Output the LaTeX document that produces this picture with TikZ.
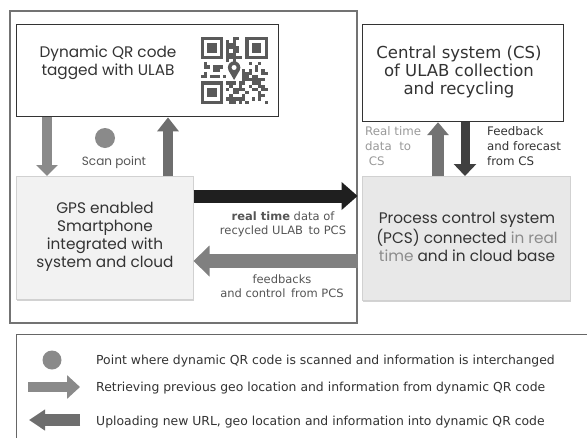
\documentclass[tikz,border=0pt]{standalone}
\usepackage{fontspec}
\setmainfont{DejaVu Sans}
\newfontfamily\geo{Poppins}
\usetikzlibrary{arrows.meta,shadows}
\definecolor{txt}{HTML}{333333}
\definecolor{lbl}{HTML}{555555}
\definecolor{lightlbl}{HTML}{999999}
\definecolor{arrgray}{HTML}{8A8A8A}
\definecolor{arrdark}{HTML}{6E6E6E}
\definecolor{qrgray}{HTML}{5A5A5A}
\tikzset{
  whitebox/.style={draw=txt, line width=1.4pt, fill=white, anchor=north west, inner sep=0pt},
  greybox/.style={draw=black!18, line width=0.5pt, anchor=north west, inner sep=0pt,
     drop shadow={opacity=0.35, shadow xshift=1.2pt, shadow yshift=-1.5pt}},
  framebox/.style={draw=black!55, fill=white, line width=1.6pt, anchor=north west, inner sep=0pt,
     drop shadow={opacity=0.25, shadow xshift=1.2pt, shadow yshift=-1.5pt}},
  bigtext/.style={text=txt, align=center, font=\geo\fontsize{15.3}{18}\selectfont},
  cstext/.style={text=txt, align=center, font=\fontsize{16.5}{18}\selectfont},
  smalltext/.style={text=lbl, align=center, font=\fontsize{11.5}{14}\selectfont},
  sidetext/.style={align=left, anchor=north west, inner sep=0pt, font=\fontsize{11.8}{15}\selectfont},
  legtext/.style={text=txt, anchor=west, inner sep=0pt, font=\fontsize{12.4}{14}\selectfont},
  blockarrow/.style n args={4}{draw=#1, line width=#2, -{Triangle[width=#3, length=#4]}},
}
\begin{document}
\begin{tikzpicture}[x=1pt, y=-1pt]
\useasboundingbox (0,0) rectangle (587,437);

% outer frame
\node[framebox, minimum width=347pt, minimum height=312pt] (frame) at (9,10) {};

% QR box
\node[whitebox, minimum width=262pt, minimum height=92pt] (qr) at (16,24) {};
\node[bigtext] (qrtext) at (108,63) {Dynamic QR code\\tagged with ULAB};

% QR graphic
\begin{scope}[shift={(200.5,36.5)}]
  \pgfmathsetseed{31}
  \foreach \i in {0,...,20}{
    \foreach \j in {0,...,20}{
      \pgfmathsetmacro\rr{rnd}
      \pgfmathtruncatemacro\sk{((\i<8)&&(\j<8)) || ((\i>12)&&(\j<8)) || ((\i<8)&&(\j>12)) || ((\i>7)&&(\i<13)&&(\j>7)&&(\j<14))}
      \ifnum\sk=0
        \ifdim\rr pt>0.5pt
          \fill[qrgray] (\i*3.2,\j*3.2) rectangle ++(3.2,3.2);
        \fi
      \fi
    }
  }
  \foreach \ox/\oy in {0/0, 14/0, 0/14}{
    \fill[qrgray] (\ox*3.2,\oy*3.2) rectangle ++(22.4,22.4);
    \fill[white] (\ox*3.2+3.2,\oy*3.2+3.2) rectangle ++(16,16);
    \fill[qrgray] (\ox*3.2+6.4,\oy*3.2+6.4) rectangle ++(9.6,9.6);
  }
  % location pin
  \fill[qrgray] (33.6,31) circle (6.2);
  \fill[qrgray] (28,33.8) -- (33.6,43.5) -- (39.2,33.8) -- cycle;
  \fill[white] (33.6,31) circle (2.5);
\end{scope}

% GPS box
\node[greybox, fill=black!5, minimum width=177pt, minimum height=123pt] (gps) at (16,176) {};
\node[bigtext] (gpstext) at (105,237) {GPS enabled\\Smartphone\\integrated with\\system and cloud};

% scan point
\node[circle, fill=arrgray, minimum size=20pt, inner sep=0pt] (scan) at (105,138) {};
\node[smalltext, font=\geo\fontsize{12}{14}\selectfont] (scanlbl) at (114,162) {Scan point};

% QR <-> GPS arrows
\draw[blockarrow={arrgray}{10pt}{21pt}{11pt}] ([xshift=31pt]qr.south west) -- ([xshift=31pt]qr.south west |- gps.north);
\draw[blockarrow={arrdark}{10pt}{21pt}{14pt}] ([xshift=152pt]gps.north west) -- ([xshift=152pt]gps.north west |- qr.south);

% CS box
\node[whitebox, line width=1.2pt, minimum width=201pt, minimum height=97pt] (cs) at (362,24) {};
\node[cstext] (cstext) at (459,72) {Central system (CS)\\of ULAB collection\\and recycling};

% PCS box
\node[greybox, fill=black!9, minimum width=208pt, minimum height=124pt] (pcs) at (362,176) {};
\node[bigtext] (pcstext) at (467,237) {Process control system\\(PCS) connected \textcolor{black!45}{in real}\\\textcolor{black!45}{time} and in cloud base};

% GPS <-> PCS arrows
\draw[blockarrow={black!88}{13pt}{27pt}{16pt}] (gps.east |- 0,196) -- (frame.east |- 0,196);
\draw[blockarrow={black!50}{14pt}{30pt}{16pt}] (frame.east |- 0,261) -- (gps.east |- 0,261);
\node[smalltext] (rtlbl) at (283,224) {\textbf{real time} data of\\recycled ULAB\, to PCS};
\node[smalltext] (fblbl) at (282,286) {feedbacks\\and control\, from PCS};

% CS <-> PCS arrows
\draw[blockarrow={black!55}{12pt}{21pt}{13pt}] ([xshift=76pt]pcs.north west) -- ([xshift=76pt]pcs.north west |- cs.south);
\draw[blockarrow={black!75}{9pt}{22pt}{12pt}] ([xshift=103pt]cs.south west) -- ([xshift=103pt]cs.south west |- pcs.north);
\node[sidetext, text=lightlbl] (rtcs) at (365,126) {Real time\\data\ \ to\\\ CS};
\node[sidetext, text=txt] (fbcs) at (487,126) {Feedback\\and forecast\\from CS};

% legend
\node[framebox, draw=black!60, line width=1.4pt, drop shadow={opacity=0}, minimum width=620pt, minimum height=140pt] (leg) at (16,334) {};
\node[circle, fill=arrgray, minimum size=19pt, inner sep=0pt] (legdot) at (52,360) {};
\coordinate (lr1) at (28,387);
\coordinate (lr2) at (80,387);
\coordinate (ll1) at (80,420);
\coordinate (ll2) at (29,420);
\draw[blockarrow={arrgray}{10pt}{23pt}{13pt}] (lr1) -- (lr2);
\draw[blockarrow={arrdark}{12pt}{20pt}{16pt}] (ll1) -- (ll2);
\node[legtext] (leg1) at (96,361) {Point where dynamic QR code is scanned and information is interchanged};
\node[legtext] (leg2) at (96,388) {Retrieving previous geo location and information from dynamic QR code};
\node[legtext] (leg3) at (96,422) {Uploading new URL, geo location and information into dynamic QR code};
\end{tikzpicture}
\end{document}
